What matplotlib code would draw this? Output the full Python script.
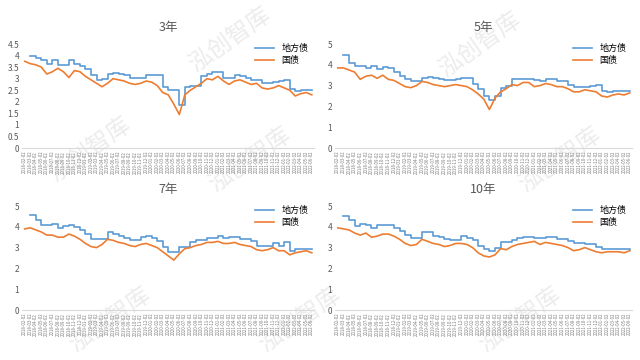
import numpy as np
import pandas as pd
import matplotlib
matplotlib.use("Agg")
from matplotlib import pyplot as plt

plt.rcParams["font.family"] = ["Noto Sans CJK SC", "DejaVu Sans"]

dates = pd.date_range("2018-01-02", periods=53, freq="MS")
date_labels = [d.strftime("%Y-%m-02") for d in dates]

local_3y = [np.nan, 4.0, 3.9, 3.8, 3.65, 3.8, 3.6, 3.6, 3.8, 3.65, 3.55, 3.4, 3.15,
            2.95, 3.0, 3.2, 3.25, 3.2, 3.15, 3.05, 3.05, 3.05, 3.15, 3.15, 3.15, 2.65,
            2.5, 2.5, 1.85, 2.65, 2.7, 2.7, 3.1, 3.2, 3.3, 3.3, 3.05, 3.05, 3.15, 3.1,
            3.05, 2.95, 2.95, 2.8, 2.8, 2.85, 2.9, 2.95, 2.55, 2.45, 2.5, 2.5, 2.5]
gov_3y = [3.75, 3.65, 3.6, 3.5, 3.2, 3.3, 3.45, 3.3, 3.05, 3.35, 3.3, 3.1, 2.95,
          2.8, 2.65, 2.8, 3.0, 2.95, 2.9, 2.8, 2.75, 2.8, 2.9, 2.85, 2.7, 2.4,
          2.3, 1.9, 1.45, 2.3, 2.5, 2.65, 2.8, 3.0, 2.95, 3.1, 2.9, 2.75, 2.9, 2.95,
          2.85, 2.75, 2.8, 2.6, 2.55, 2.6, 2.7, 2.6, 2.5, 2.25, 2.35, 2.4, 2.3]

local_5y = [np.nan, 4.45, 4.1, 3.95, 3.95, 3.85, 3.95, 3.8, 3.9, 3.85, 3.65, 3.45, 3.3,
            3.2, 3.2, 3.35, 3.4, 3.35, 3.3, 3.25, 3.25, 3.3, 3.35, 3.35, 3.1, 2.85,
            2.5, 2.3, 2.5, 2.9, 3.0, 3.3, 3.3, 3.3, 3.3, 3.25, 3.2, 3.3, 3.3, 3.2,
            3.2, 3.05, 2.95, 2.95, 2.95, 3.0, 3.05, 2.75, 2.7, 2.75, 2.75, 2.75, 2.75]
gov_5y = [3.85, 3.85, 3.75, 3.65, 3.3, 3.45, 3.5, 3.35, 3.5, 3.3, 3.25, 3.1, 2.95,
          2.9, 3.0, 3.2, 3.15, 3.05, 3.0, 2.95, 3.0, 3.05, 3.0, 2.95, 2.8, 2.6,
          2.35, 1.85, 2.4, 2.7, 2.85, 3.05, 3.0, 3.15, 3.15, 2.95, 3.0, 3.1, 3.05, 2.95,
          2.95, 2.85, 2.7, 2.7, 2.8, 2.75, 2.7, 2.5, 2.45, 2.55, 2.6, 2.55, 2.65]

local_7y = [np.nan, 4.55, 4.35, 4.1, 4.1, 4.15, 3.95, 4.05, 4.1, 4.0, 3.85, 3.65, 3.4,
            3.4, 3.4, 3.75, 3.65, 3.55, 3.45, 3.35, 3.35, 3.5, 3.55, 3.45, 3.3, 3.05,
            2.8, 2.8, 3.05, 3.05, 3.25, 3.35, 3.35, 3.45, 3.45, 3.55, 3.45, 3.5, 3.5, 3.4,
            3.4, 3.3, 3.1, 3.1, 3.1, 3.2, 3.1, 3.25, 2.85, 2.95, 2.95, 2.95, 2.95]
gov_7y = [3.9, 3.95, 3.85, 3.75, 3.6, 3.6, 3.5, 3.5, 3.65, 3.55, 3.4, 3.2, 3.05,
          3.0, 3.15, 3.4, 3.35, 3.25, 3.2, 3.1, 3.05, 3.15, 3.2, 3.1, 3.0, 2.8,
          2.6, 2.4, 2.7, 2.95, 3.0, 3.1, 3.15, 3.25, 3.25, 3.3, 3.2, 3.2, 3.25, 3.15,
          3.1, 3.05, 2.9, 2.85, 2.9, 3.0, 2.85, 2.85, 2.65, 2.75, 2.8, 2.85, 2.75]

local_10y = [np.nan, 4.5, 4.35, 4.05, 4.15, 4.1, 3.95, 4.1, 4.1, 4.1, 3.95, 3.8, 3.6,
             3.45, 3.45, 3.75, 3.75, 3.55, 3.5, 3.4, 3.35, 3.35, 3.55, 3.45, 3.35, 3.1,
             2.95, 2.85, 3.0, 3.25, 3.25, 3.35, 3.45, 3.5, 3.5, 3.45, 3.45, 3.5, 3.5, 3.4,
             3.4, 3.3, 3.2, 3.2, 3.15, 3.15, 3.05, 2.95, 2.95, 2.95, 2.95, 2.95, 2.9]
gov_10y = [3.95, 3.9, 3.85, 3.7, 3.6, 3.7, 3.5, 3.55, 3.65, 3.65, 3.55, 3.4, 3.2,
           3.1, 3.15, 3.4, 3.3, 3.2, 3.15, 3.05, 3.1, 3.2, 3.2, 3.15, 3.0, 2.75,
           2.6, 2.55, 2.65, 2.95, 2.9, 3.05, 3.15, 3.2, 3.25, 3.3, 3.15, 3.25, 3.2, 3.15,
           3.1, 3.0, 2.85, 2.9, 3.0, 2.9, 2.8, 2.75, 2.8, 2.8, 2.8, 2.75, 2.85]

panels = [
    ("3年", local_3y, gov_3y, np.arange(0, 4.51, 0.5), ["0", "0.5", "1", "1.5", "2", "2.5", "3", "3.5", "4", "4.5"]),
    ("5年", local_5y, gov_5y, np.arange(0, 6), [str(i) for i in range(6)]),
    ("7年", local_7y, gov_7y, np.arange(0, 6), [str(i) for i in range(6)]),
    ("10年", local_10y, gov_10y, np.arange(0, 6), [str(i) for i in range(6)]),
]

# pixel boxes: left, top(px), right, bottom(px)
boxes = [(22, 44, 314, 148), (335, 44, 632, 148), (22, 206, 314, 310), (335, 206, 632, 310)]
title_y = [28, 28, 190, 190]

blue = "#5B9BD5"
orange = "#ED7D31"
W, H = 640, 360

fig = plt.figure(figsize=(6.4, 3.6), dpi=100)
fig.patch.set_facecolor("white")

# watermark (kept inside the canvas)
for (wx, wy) in [(230, 40), (480, 45), (90, 150), (250, 160), (560, 160),
                 (110, 320), (300, 320), (520, 320)]:
    fig.text(wx / W, 1 - wy / H, "泓创智库", fontsize=17, color="#ececec", rotation=35,
             ha="center", va="center", zorder=0)

x = np.arange(len(date_labels))
for (title, local, gov, yt, ytl), (l, t, r, b), ty in zip(panels, boxes, title_y):
    ax = fig.add_axes([l / W, 1 - b / H, (r - l) / W, (b - t) / H])
    ax.set_zorder(2)
    ax.patch.set_alpha(0)
    ax.plot(x, local, color=blue, lw=1.2, drawstyle="steps-post", label="地方债")
    ax.plot(x, gov, color=orange, lw=1.2, label="国债")
    ax.set_ylim(yt[0], yt[-1])
    ax.set_xlim(-0.5, len(x) - 0.6)
    ax.set_yticks(yt)
    ax.set_yticklabels(ytl, fontsize=6, color="#595959")
    ax.set_xticks(x)
    ax.set_xticklabels(date_labels, rotation=90, fontsize=3.2, color="#7f7f7f")
    ax.tick_params(length=0, pad=2)
    for s in ["top", "right", "left"]:
        ax.spines[s].set_visible(False)
    ax.spines["bottom"].set_color("#d9d9d9")
    ax.spines["bottom"].set_linewidth(0.8)
    fig.text((l + r) / 2 / W, 1 - ty / H, title, fontsize=9, color="#595959",
             ha="center", va="center", zorder=3)
    ax.legend(loc="upper right", bbox_to_anchor=(1.0, 1.05), frameon=False, fontsize=6.5,
              handlelength=2.2, labelspacing=0.3, borderaxespad=0.2)

fig.savefig("out.png", dpi=100)
